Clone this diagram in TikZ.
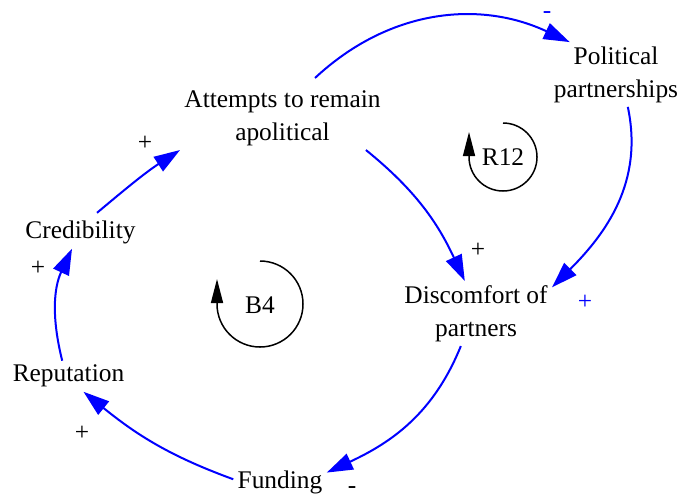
\documentclass[tikz,border=0pt]{standalone}
\usepackage{fontspec}
\setmainfont{Liberation Serif}
\usetikzlibrary{arrows.meta}
\tikzset{
  var/.style={inner sep=2pt, align=center, font=\fontsize{12.7}{16.5}\selectfont},
  sgn/.style={inner sep=0pt, font=\fontsize{12.7}{16.5}\selectfont},
  lbl/.style={inner sep=1pt, font=\fontsize{12.7}{16.5}\selectfont},
  link/.style={draw=blue, line width=1pt, -{Triangle[length=13pt,width=8.5pt]}},
  loopmk/.style={draw=black, line width=0.75pt, -{Triangle[length=12pt,width=6pt]}},
}
\begin{document}
\begin{tikzpicture}[x=0.5pt,y=0.5pt]
\useasboundingbox (0,0) rectangle (683,-499);
% variables
\node[var] (att) at (282.5,-118) {Attempts to remain\\apolitical};
\node[var] (pol) at (616,-74.5) {Political\\partnerships};
\node[var] (dis) at (476,-313.5) {Discomfort of\\partners};
\node[var] (fund) at (280,-482.5) {Funding};
\node[var] (rep) at (68.5,-376.25) {Reputation};
\node[var] (cred) at (80.5,-232.75) {Credibility};
% causal links
\draw[link] ([xshift=16.25pt,yshift=4pt]att.north) to[out=43,in=155] (pol.145);
\draw[link] (pol.-70) to[out=-78,in=45] (dis.19);
\draw[link] (att.-21) to[out=-39,in=115] (dis.109);
\draw[link] (dis.-115) to[out=-112,in=25] (fund.12);
\draw[link] (fund.176) to[out=160,in=-39] (rep.-46);
\draw[link] (rep.112) to[out=104,in=-115] (cred.-118);
\draw[link] ([yshift=2pt]cred.44) to[out=40,in=213] (att.south west);
% polarities
\node[sgn, text=blue] (p1) at (547,-15) {-};
\node[sgn, text=blue] (p2) at (585,-302) {+};
\node[sgn] (p3) at (478,-250) {+};
\node[sgn] (p4) at (352,-490) {-};
\node[sgn] (p5) at (82,-433) {+};
\node[sgn] (p6) at (38,-268) {+};
\node[sgn] (p7) at (145,-143) {+};
% loop markers
\node[lbl] (r12) at (503,-157) {R12};
\draw[loopmk] (r12.center) ++(0,34) arc[start angle=90,end angle=-180,radius=34] -- ++(0,25);
\node[lbl] (b4) at (260,-305) {B4};
\draw[loopmk] (b4.center) ++(0,44) arc[start angle=90,end angle=-180,radius=43] -- ++(0,25);
\end{tikzpicture}
\end{document}
